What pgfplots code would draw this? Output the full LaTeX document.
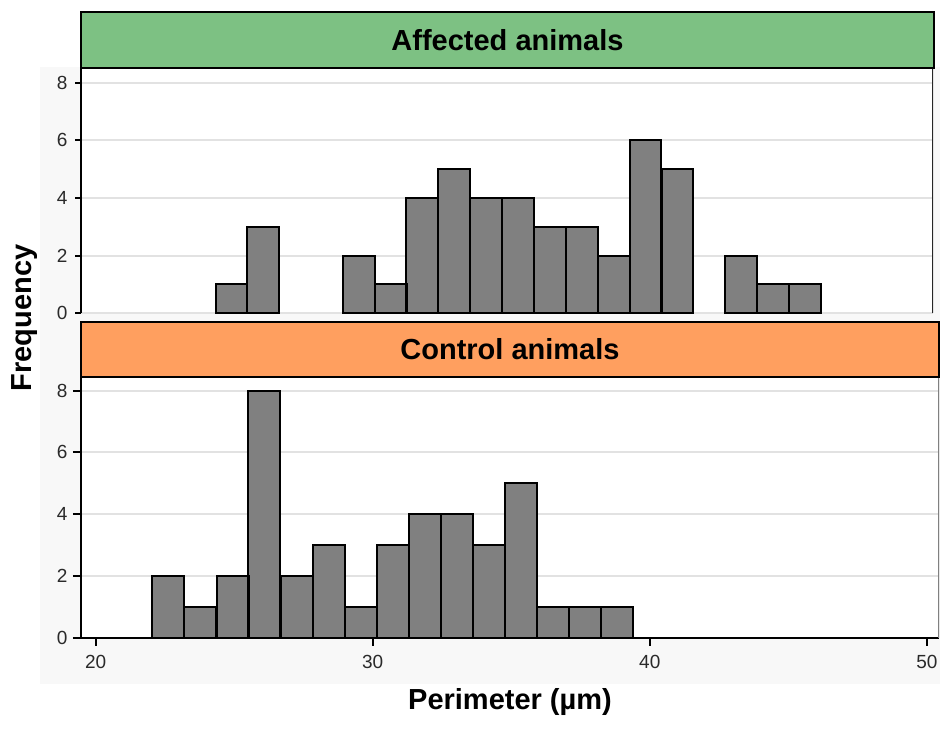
\documentclass[border=0pt]{standalone}
\usepackage{fontspec}
\setmainfont{Liberation Sans}
\usepackage{pgfplots}
\pgfplotsset{compat=1.18}
\definecolor{affgreen}{HTML}{7DC183}
\definecolor{ctlorange}{HTML}{FF9F5F}
\definecolor{bargray}{HTML}{808080}
\definecolor{gridgray}{HTML}{E2E2E2}
\definecolor{tickgray}{HTML}{2A2A2A}
\definecolor{bggray}{HTML}{F8F8F8}
\begin{document}
\begin{tikzpicture}[x=1pt,y=1pt]
\useasboundingbox (0,0) rectangle (940,-745);
\fill[bggray] (40,-67) rectangle (940,-684);
\fill[white] (81,-67.7) rectangle (934,-313.3);
\fill[white] (81,-376.7) rectangle (939.3,-637.7);
\pgfplotsset{
  panel/.style={
    scale only axis,
    xmin=19.47, xmax=50.44,
    ymin=0,
    ytick={0,2,4,6,8},
    xtick={20,30,40,50},
    ymajorgrids,
    grid style={gridgray, line width=2pt},
    tick align=outside,
    major tick length=6pt,
    every tick/.style={black, line width=2pt},
    axis line style={black, line width=2.2pt},
    /pgf/number format/assume math mode=true,
    ticklabel style={font=\fontsize{19}{19}\selectfont, text=tickgray},
  },
  bars/.style={ybar, bar width=1.158, bar shift=0pt, fill=bargray, draw=black, line width=2pt},
}
% Top panel: Affected animals
\begin{axis}[panel,
  at={(81pt,-313.3pt)}, anchor=south west,
  width=852pt, height=245.6pt, ymax=8.52,
  hide x axis,
  axis y line*=left,
  yticklabel style={xshift=-4pt},
]
\addplot[bars] coordinates {
(24.94,1) (26.09,3)
(29.57,2) (30.73,1) (31.88,4) (33.04,5) (34.20,4) (35.36,4) (36.52,3)
(37.67,3) (38.83,2) (39.99,6) (41.15,5)
(43.46,2) (44.62,1) (45.78,1)
};
\draw[black, line width=2.2pt] (rel axis cs:0,0) -- (rel axis cs:0,1);
\draw[black!85, line width=2pt] (rel axis cs:1,0) -- (rel axis cs:1,1);
\end{axis}
% Bottom panel: Control animals
\begin{axis}[panel,
  at={(81pt,-637.7pt)}, anchor=south west,
  width=858pt, height=261pt, ymax=8.45,
  axis x line*=bottom, axis y line*=left,
  major tick length=8pt,
  ytick style={black},
  yticklabel style={xshift=-2pt},
  xticklabel style={yshift=-6pt},
]
\addplot[bars] coordinates {
(22.62,2) (23.78,1) (24.94,2) (26.09,8) (27.25,2) (28.41,3) (29.57,1)
(30.73,3) (31.88,4) (33.04,4) (34.20,3) (35.36,5) (36.52,1) (37.67,1) (38.83,1)
};
\draw[black, line width=2.2pt] (rel axis cs:0,1) -- (rel axis cs:0,0) -- (rel axis cs:1,0);
\draw[gray, line width=1.5pt] (rel axis cs:1,0) -- (rel axis cs:1,1);
\end{axis}
% header strips
\draw[fill=affgreen, line width=2pt] (81,-11.7) rectangle (934,-67.7);
\node[font=\fontsize{29}{29}\selectfont\bfseries] at (507.5,-40) {Affected animals};
\draw[fill=ctlorange, line width=2pt] (81,-321.7) rectangle (939,-376.7);
\node[font=\fontsize{29}{29}\selectfont\bfseries] at (510,-349) {Control animals};
% axis labels
\node[rotate=90, font=\fontsize{29}{29}\selectfont\bfseries] at (25,-318) {Frequency};
\node[font=\fontsize{29}{29}\selectfont\bfseries] at (510,-702) {Perimeter (µm)};
\end{tikzpicture}
\end{document}
